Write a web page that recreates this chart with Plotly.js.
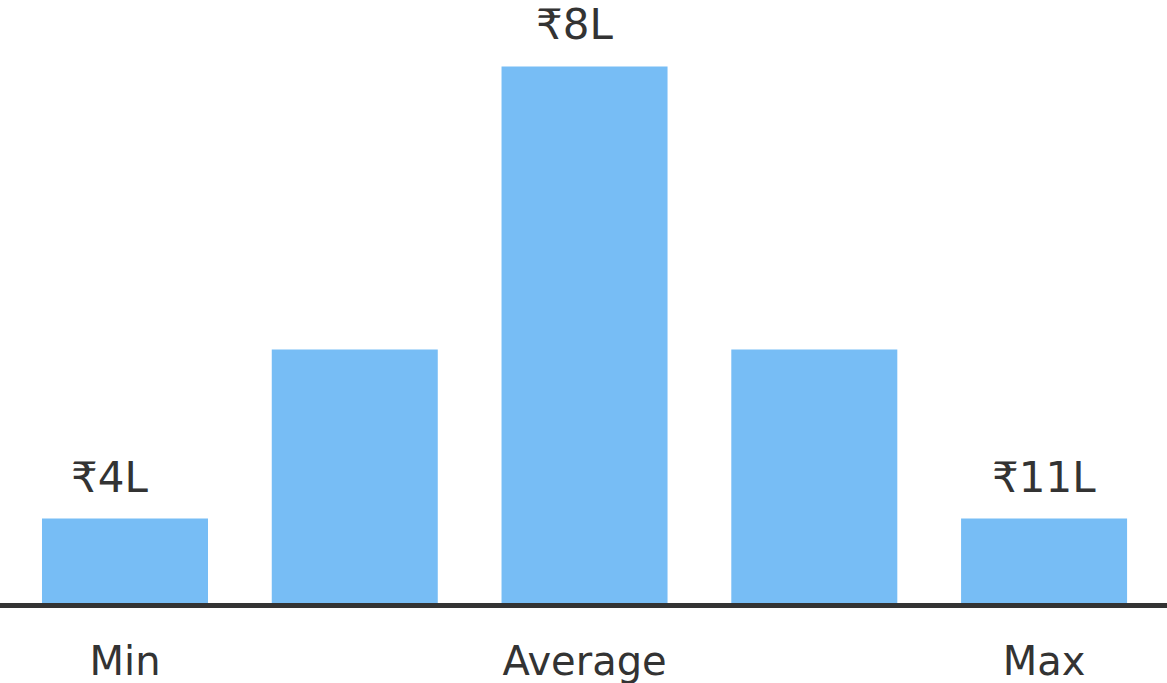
<!DOCTYPE html>
<html>
<head>
<meta charset="utf-8">
<script src="https://cdn.plot.ly/plotly-3.0.1.min.js"></script>
<style>html,body{margin:0;padding:0;background:#fff;}#chart{width:1167px;height:683px;}</style>
</head>
<body>
<div id="chart"></div>
<script>
const positions = [0, 1, 2, 3, 4];
const values = [1.0, 3.0, 6.35, 3.0, 1.0];
const barLabels = ["₹4L", "", "₹8L", "", "₹11L"];
const tickPositions = [0, 2, 4];
const tickLabels = ["Min", "Average", "Max"];

// style: horizontal nudges of the value labels, as in the reference
const LABEL_XSHIFT = [-15, 0, -10, 0, 0];

const FONT = "DejaVu Sans, Noto Sans, sans-serif";
const TEXT = "#333333";

const trace = {
  type: "bar",
  x: positions,
  y: values,
  marker: {color: "#77bdf5", line: {width: 0}},
  hoverinfo: "skip"
};

const annotations = positions
  .map((p, i) => ({p, i}))
  .filter(o => barLabels[o.i] !== "")
  .map(o => ({
    x: o.p, y: values[o.i], xref: "x", yref: "y",
    text: barLabels[o.i], showarrow: false,
    yanchor: "bottom", xanchor: "center", yshift: 15, xshift: LABEL_XSHIFT[o.i],
    font: {family: FONT, size: 42, color: TEXT}
  }));

const layout = {
  width: 1167, height: 683,
  margin: {l: 0, r: 0, t: 0, b: 80, pad: 0},
  paper_bgcolor: "#ffffff", plot_bgcolor: "#ffffff",
  showlegend: false,
  bargap: 0.2775,
  xaxis: {
    range: [-0.544, 4.535],
    tickvals: tickPositions, ticktext: tickLabels,
    showgrid: false, zeroline: false,
    showline: true, linecolor: "#333333", linewidth: 5,
    ticks: "", ticklabelstandoff: 19,
    tickfont: {family: FONT, size: 40, color: TEXT}
  },
  yaxis: {
    range: [0, 7.136], visible: false, showgrid: false, zeroline: false
  },
  annotations: annotations
};

Plotly.newPlot("chart", [trace], layout, {displayModeBar: false, staticPlot: true});
</script>
</body>
</html>
